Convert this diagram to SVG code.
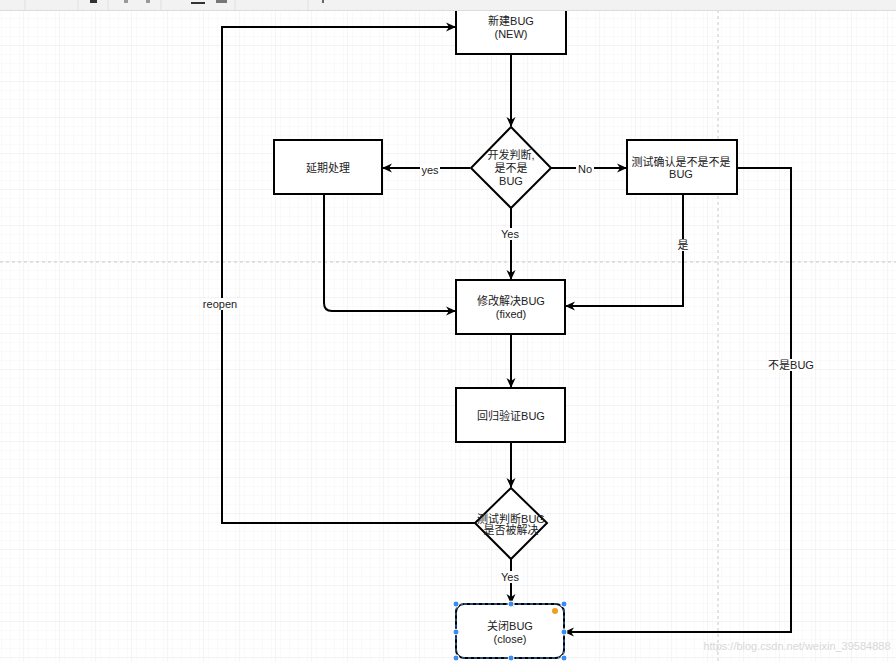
<svg xmlns="http://www.w3.org/2000/svg" width="896" height="662" viewBox="0 0 896 662">
<defs>
<pattern id="minor" width="9" height="9" patternUnits="userSpaceOnUse" x="5" y="0">
<path d="M9,0 L0,0 L0,9" fill="none" stroke="#f5f5f5" stroke-width="1"/>
</pattern>
<pattern id="major" width="36" height="36" patternUnits="userSpaceOnUse" x="23" y="9">
<rect width="36" height="36" fill="url(#minor)"/>
<path d="M36,0 L0,0 L0,36" fill="none" stroke="#ebebeb" stroke-width="1"/>
</pattern>
<marker id="arr" viewBox="0 0 10 10" refX="9" refY="5" markerWidth="10" markerHeight="10" markerUnits="userSpaceOnUse" orient="auto">
<path d="M0,0.5 L10,5 L0,9.5 L3,5 z" fill="#000"/>
</marker>
<style>
.box{fill:#fff;stroke:#000;stroke-width:2}
.ln{fill:none;stroke:#000;stroke-width:2}
.t{font-family:"Liberation Sans","Noto Sans CJK SC",sans-serif;font-size:11px;fill:#222;text-anchor:middle}
.lbl{font-family:"Liberation Sans","Noto Sans CJK SC",sans-serif;font-size:11px;fill:#222;text-anchor:middle}
.lblbg{fill:#fff}
.guide{stroke:#c8c8c8;stroke-width:1;stroke-dasharray:3,3}
.h{fill:#3c8cf0;stroke:#fff;stroke-width:1}
</style>
</defs>
<rect width="896" height="662" fill="#fff"/>
<rect width="896" height="662" fill="url(#major)"/>
<line x1="718" y1="10" x2="718" y2="662" class="guide"/>
<line x1="0" y1="262" x2="896" y2="262" class="guide"/>

<g id="connectors">
<path class="ln" d="M511,54 L511,126" marker-end="url(#arr)"/>
<path class="ln" d="M551,168 L626,168" marker-end="url(#arr)"/>
<path class="ln" d="M470,168 L383,168" marker-end="url(#arr)"/>
<path class="ln" d="M511,208 L511,279" marker-end="url(#arr)"/>
<path class="ln" d="M324,194 L324,303 Q324,311 332,311 L455,311" marker-end="url(#arr)"/>
<path class="ln" d="M683,194 L683,306 L566,306" marker-end="url(#arr)"/>
<path class="ln" d="M737,168 L791,168 L791,632 L565,632" marker-end="url(#arr)"/>
<path class="ln" d="M511,334 L511,387" marker-end="url(#arr)"/>
<path class="ln" d="M511,442 L511,487" marker-end="url(#arr)"/>
<path class="ln" d="M475,523 L222,523 L222,27 L455,27" marker-end="url(#arr)"/>
<path class="ln" d="M511,559 L511,603" marker-end="url(#arr)"/>
<rect class="lblbg" x="576" y="163" width="18" height="12"/>
<text class="lbl" x="585" y="173">No</text>
<rect class="lblbg" x="420" y="164" width="20" height="12"/>
<text class="lbl" x="430" y="174">yes</text>
<rect class="lblbg" x="499" y="228" width="22" height="12"/>
<text class="lbl" x="510" y="238">Yes</text>
<rect class="lblbg" x="677" y="239" width="12" height="12"/>
<text class="lbl" x="683" y="249">是</text>
<rect class="lblbg" x="768" y="359" width="46" height="12"/>
<text class="lbl" x="791" y="369">不是BUG</text>
<rect class="lblbg" x="202" y="298" width="38" height="12"/>
<text class="lbl" x="220" y="308">reopen</text>
<rect class="lblbg" x="499" y="571" width="22" height="12"/>
<text class="lbl" x="510" y="581">Yes</text>
</g>

<g id="node-new">
<rect class="box" x="456" y="-8" width="110" height="62"/>
<text class="t" x="511" y="25">新建BUG</text>
<text class="t" x="511" y="38">(NEW)</text>
</g>
<g id="node-judge1">
<polygon class="box" points="511,127 551,168 511,208 471,168"/>
<text class="t" x="511" y="159">开发判断,</text>
<text class="t" x="511" y="172">是不是</text>
<text class="t" x="511" y="185">BUG</text>
</g>
<g id="node-confirm">
<rect class="box" x="627" y="140" width="110" height="54"/>
<text class="t" x="681" y="166">测试确认是不是不是</text>
<text class="t" x="681" y="178">BUG</text>
</g>
<g id="node-delay">
<rect class="box" x="274" y="140" width="108" height="54"/>
<text class="t" x="328" y="172">延期处理</text>
</g>
<g id="node-fixed">
<rect class="box" x="456" y="280" width="109" height="54"/>
<text class="t" x="511" y="305">修改解决BUG</text>
<text class="t" x="511" y="318">(fixed)</text>
</g>
<g id="node-verify">
<rect class="box" x="456" y="388" width="109" height="54"/>
<text class="t" x="511" y="420">回归验证BUG</text>
</g>
<g id="node-judge2">
<polygon class="box" points="511,488 547,523 511,559 475,523"/>
<text class="t" x="511" y="523">测试判断BUG</text>
<text class="t" x="511" y="534">是否被解决</text>
</g>
<g id="node-close">
<rect class="box" x="456" y="604" width="108" height="54" rx="8" ry="8"/>
<rect x="456" y="604" width="108" height="54" rx="8" ry="8" fill="none" stroke="#3c8cf0" stroke-width="1" stroke-dasharray="3,3"/>
<text class="t" x="510" y="630">关闭BUG</text>
<text class="t" x="510" y="643">(close)</text>
<circle class="h" cx="456" cy="604" r="3"/>
<circle class="h" cx="511" cy="604" r="3"/>
<circle class="h" cx="564" cy="604" r="3"/>
<circle class="h" cx="456" cy="632" r="3"/>
<circle class="h" cx="564" cy="632" r="3"/>
<circle class="h" cx="456" cy="658" r="3"/>
<circle class="h" cx="511" cy="658" r="3"/>
<circle class="h" cx="564" cy="658" r="3"/>
<circle cx="555" cy="611" r="3" fill="#f0a020"/>
</g>

<g id="toolbar">
<rect x="0" y="0" width="896" height="10" fill="#f2f2f2"/>
<line x1="0" y1="10.5" x2="896" y2="10.5" stroke="#dcdcdc"/>
<g stroke="#e0e0e0"><line x1="25" y1="0" x2="25" y2="10"/><line x1="78" y1="0" x2="78" y2="10"/><line x1="108" y1="0" x2="108" y2="10"/><line x1="161" y1="0" x2="161" y2="10"/><line x1="235" y1="0" x2="235" y2="10"/><line x1="308" y1="0" x2="308" y2="10"/></g>
<rect x="90" y="0" width="7" height="3" fill="#333"/>
<rect x="124" y="0" width="4" height="3" fill="#999"/>
<rect x="146" y="0" width="4" height="3" fill="#999"/>
<rect x="191" y="2" width="14" height="2" fill="#333"/>
<rect x="216" y="0" width="11" height="3" fill="#777"/>
<rect x="322" y="0" width="2" height="3" fill="#666"/>
</g>

<text x="797" y="650" font-family="Liberation Sans, sans-serif" font-size="11" fill="#d8d8d8" text-anchor="middle">https://blog.csdn.net/weixin_39584888</text>
</svg>
